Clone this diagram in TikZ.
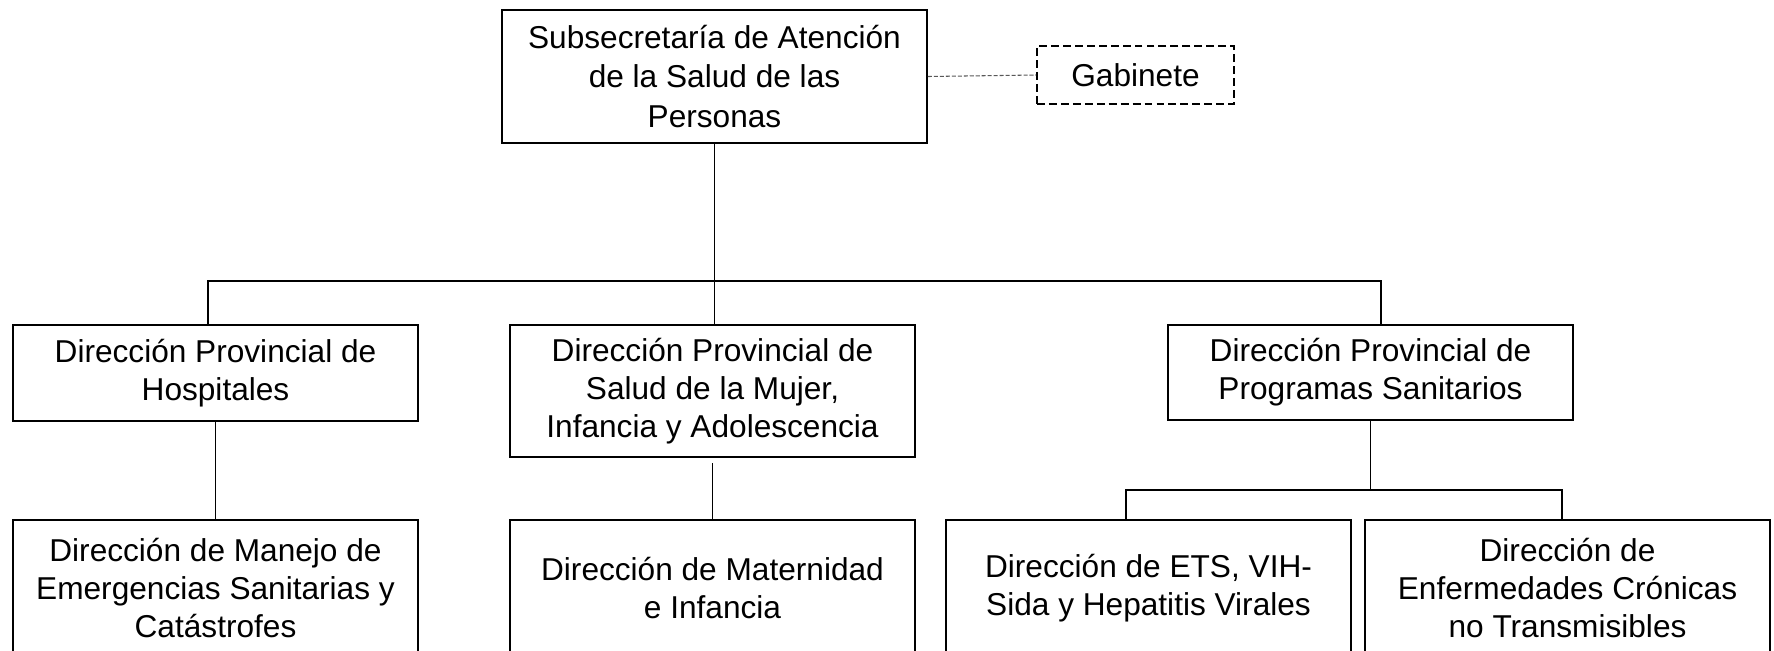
\documentclass[tikz,border=0pt]{standalone}
\usepackage{fontspec}
\setmainfont{Liberation Sans}
\begin{document}
\begin{tikzpicture}[x=0.02cm,y=-0.02cm,
    unit/.style={draw,line width=1.1pt,align=center,minimum width=8.1cm,minimum height=2.72cm,
        font=\fontsize{18pt}{21.6pt}\selectfont,inner sep=0pt},
    link/.style={line width=0.6pt}]
        \useasboundingbox[fill=white] (0,0) rectangle (1774,650);

        \node[unit,minimum width=8.5cm,minimum height=2.66cm,font=\fontsize{18pt}{22.4pt}\selectfont] (sub) at (714.5,76.5) {Subsecretaría de Atención\\de la Salud de las\\Personas};
        \node[unit,dash pattern=on 4.5pt off 2.3pt,minimum width=3.94cm,minimum height=1.16cm] (gab) at (1135.5,75) {Gabinete};
        \node[unit,minimum height=1.92cm] (hosp) at (215.5,373) {Dirección Provincial de\\Hospitales};
        \node[unit,minimum height=2.64cm] (mujer) at (712.5,391) {Dirección Provincial de\\Salud de la Mujer,\\Infancia y Adolescencia};
        \node[unit,minimum height=1.9cm] (prog) at (1370.5,372.5) {Dirección Provincial de\\Programas Sanitarios};
        \node[unit] (manejo) at (215.5,588) {Dirección de Manejo de\\Emergencias Sanitarias y\\Catástrofes};
        \node[unit] (mat) at (712.5,588) {Dirección de Maternidad\\e Infancia};
        \node[unit] (ets) at (1148.5,588) {Dirección de ETS, VIH-\\Sida y Hepatitis Virales};
        \node[unit] (enf) at (1567.5,588) {Dirección de\\Enfermedades Crónicas\\no Transmisibles};

        \coordinate (busl) at (208,281);
        \coordinate (busr) at (1381,281);
        \coordinate (subl) at (1126,490);
        \coordinate (subr) at (1562,490);

        \draw[link,dash pattern=on 2.3pt off 1.1pt,gray!70!black] (sub.east) -- (gab.west);
        \draw[link] (sub.south) -- (sub.south |- mujer.north);
        \draw[link] (busl |- hosp.north) -- (busl) -- (busr) -- (busr |- prog.north);
        \draw[link] (hosp.south) -- (manejo.north);
        \draw[link,shorten <=5\pgflinewidth] (mujer.south) -- (mat.north);
        \draw[link] (prog.south) -- (prog.south |- subl);
        \draw[link] (subl |- ets.north) -- (subl) -- (subr) -- (subr |- enf.north);

    \end{tikzpicture}
\end{document}
